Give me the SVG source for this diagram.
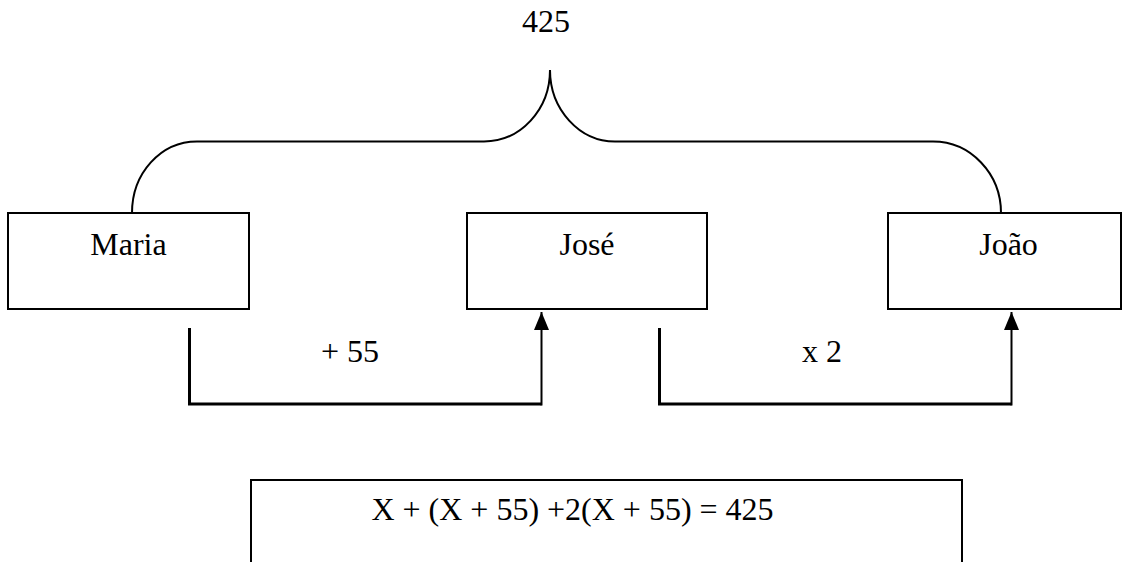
<svg xmlns="http://www.w3.org/2000/svg" width="1124" height="562" viewBox="0 0 1124 562">
<style>
.t{font-family:"Times New Roman","Liberation Serif","DejaVu Serif",serif;font-size:32px;fill:#000;text-anchor:middle}
.box{fill:#fff;stroke:#000;stroke-width:2}
.brace{fill:none;stroke:#000;stroke-width:2}
.conn{fill:none;stroke:#000;stroke-width:3}
.arrow{fill:none;stroke:#000;stroke-width:2}
</style>
<defs>
<marker id="ah" viewBox="0 0 16 18" refX="8" refY="0" markerUnits="userSpaceOnUse" markerWidth="16" markerHeight="18" orient="0">
<path d="M8,0 L15.5,18 L0.5,18 Z" fill="#000"/>
</marker>
</defs>
<text class="t" x="546" y="32" style="font-family:'Times New Roman','Liberation Serif',serif">425</text>
<g id="connectors">
<path class="brace" d="M132,213 C132,173.5 160.5,141.5 197,141.5 L484,141.5 C520.5,141.5 550,109.5 550,70 C550,109.5 579.5,141.5 615,141.5 L933,141.5 C970.5,141.5 1001,173.5 1001,213"/>
<path class="conn" d="M189.5,328 L189.5,404 L541.5,404"/>
<path class="arrow" d="M541.5,405.5 L541.5,312" marker-end="url(#ah)"/>
<path class="conn" d="M659.5,328 L659.5,404 L1011.5,404"/>
<path class="arrow" d="M1011.5,405.5 L1011.5,312" marker-end="url(#ah)"/>
<text class="t" x="350" y="362" style="font-family:'Times New Roman','Liberation Serif',serif">+ 55</text>
<text class="t" x="822" y="362" style="font-family:'Times New Roman','Liberation Serif',serif">x 2</text>
</g>
<g id="maria">
<rect class="box" x="8" y="213" width="241" height="96"/>
<text class="t" x="128.5" y="255" style="font-family:'Times New Roman','Liberation Serif',serif">Maria</text>
</g>
<g id="jose">
<rect class="box" x="467" y="213" width="240" height="96"/>
<text class="t" x="587" y="255" style="font-family:'Times New Roman','Liberation Serif',serif">José</text>
</g>
<g id="joao">
<rect class="box" x="888" y="213" width="233" height="96"/>
<text class="t" x="1008.5" y="255" style="font-family:'Times New Roman','Liberation Serif',serif">João</text>
</g>
<g id="equation">
<rect class="box" x="251" y="480" width="711" height="110"/>
<text class="t" x="572.5" y="520" style="font-family:'Times New Roman','Liberation Serif',serif">X + (X + 55) +2(X + 55) = 425</text>
</g>
</svg>
